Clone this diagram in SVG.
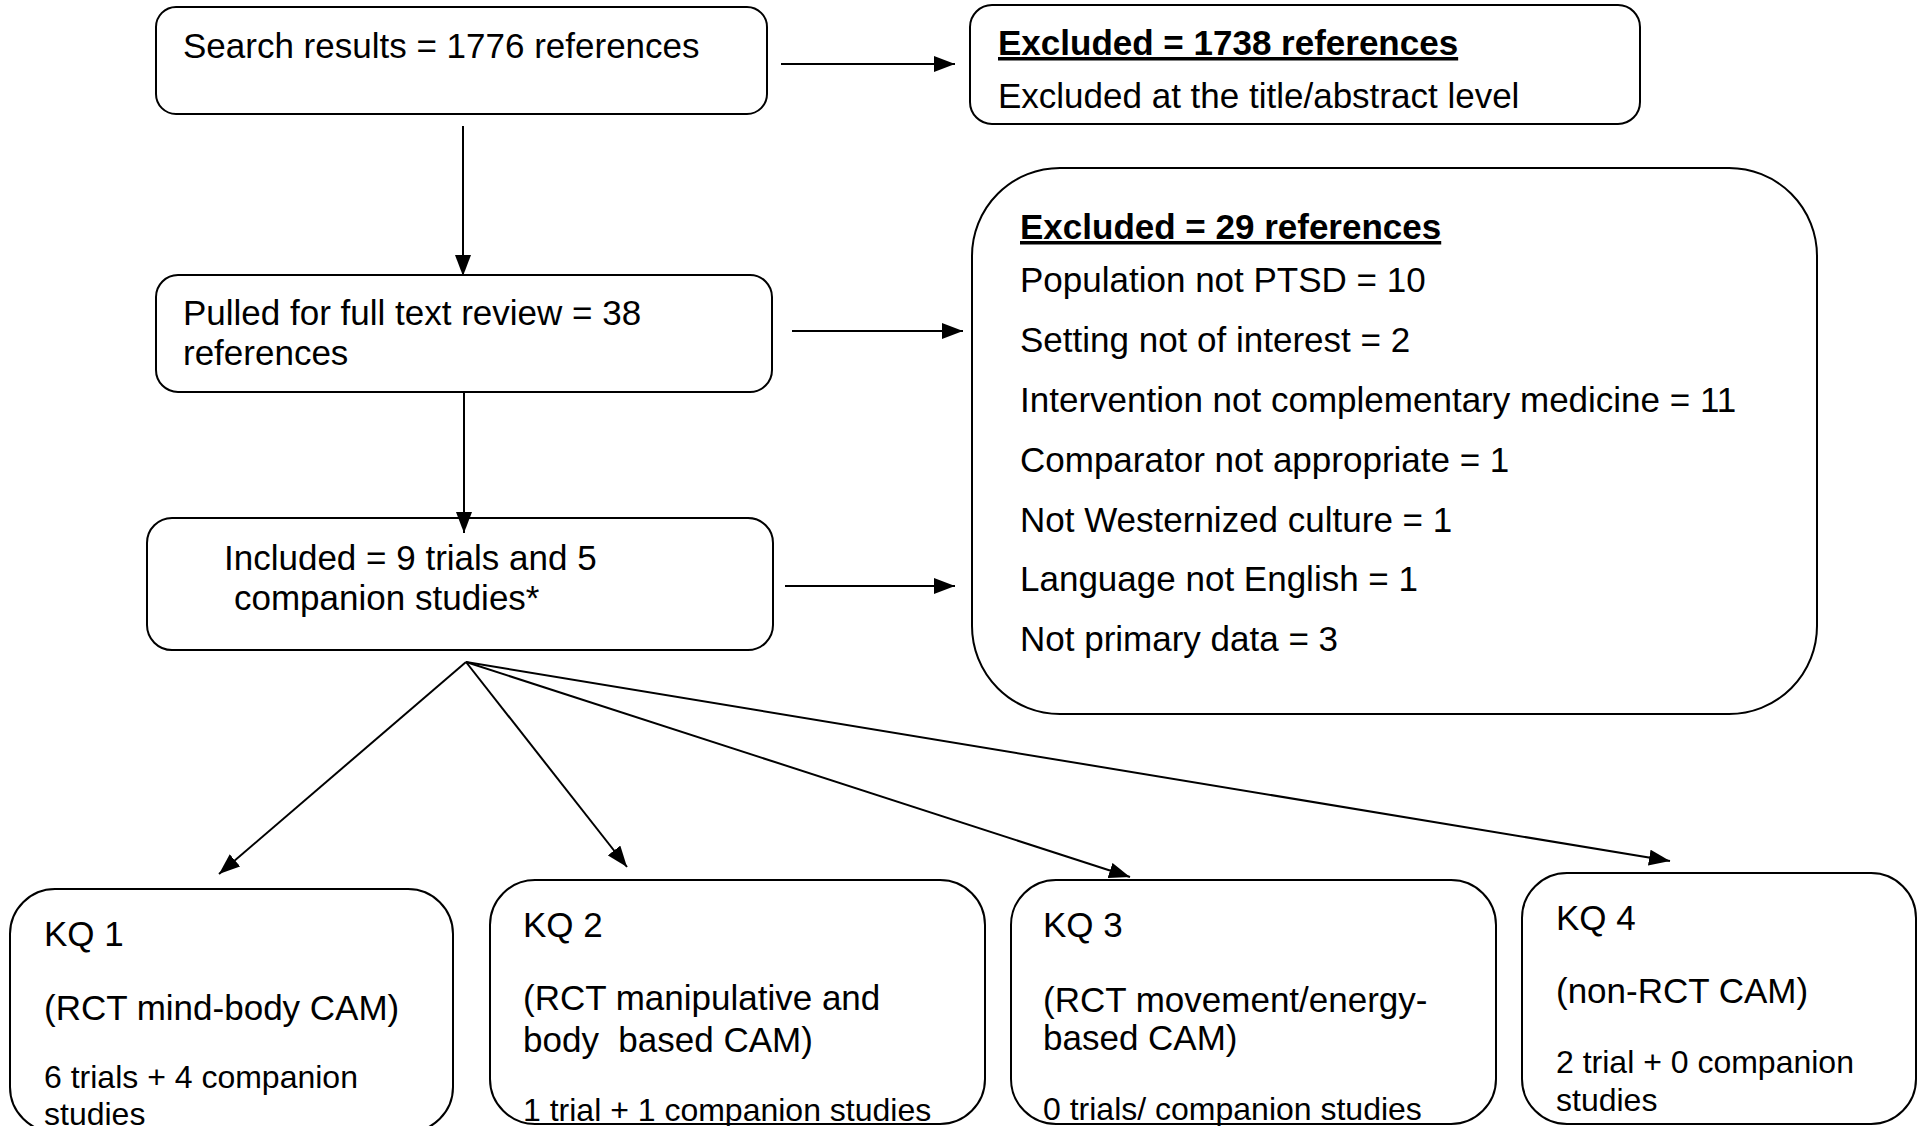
<svg xmlns="http://www.w3.org/2000/svg" width="1921" height="1126" viewBox="0 0 1921 1126">
<defs>
<style>
.box{fill:#fff;stroke:#000;stroke-width:2}
.t{font-family:"Liberation Sans",Arial,sans-serif;font-size:35px;fill:#000}
.s{font-size:32px}
.b{font-weight:bold;text-decoration:underline}
.c{stroke:#000;stroke-width:2;fill:none}
</style>
<marker id="ah" markerUnits="userSpaceOnUse" markerWidth="21" markerHeight="16" refX="21" refY="8" orient="auto">
<path d="M0,0 L21,8 L0,16 z" fill="#000"/>
</marker>
</defs>
<rect width="1921" height="1126" fill="#fff"/>
<g id="search">
<rect class="box" x="156" y="7" width="611" height="107" rx="20"/>
<text class="t" x="183" y="58">Search results = 1776 references</text>
</g>
<g id="excluded1">
<rect class="box" x="970" y="5" width="670" height="119" rx="22"/>
<text class="t b" x="998" y="55">Excluded = 1738 references</text>
<text class="t" x="998" y="108">Excluded at the title/abstract level</text>
</g>
<g id="pulled">
<rect class="box" x="156" y="275" width="616" height="117" rx="22"/>
<text class="t" x="183" y="325">Pulled for full text review = 38</text>
<text class="t" x="183" y="365">references</text>
</g>
<g id="excluded2">
<rect class="box" x="972" y="168" width="845" height="546" rx="88"/>
<text class="t b" x="1020" y="239">Excluded = 29 references</text>
<text class="t" x="1020" y="292">Population not PTSD = 10</text>
<text class="t" x="1020" y="352">Setting not of interest = 2</text>
<text class="t" x="1020" y="412">Intervention not complementary medicine = 11</text>
<text class="t" x="1020" y="472">Comparator not appropriate = 1</text>
<text class="t" x="1020" y="532">Not Westernized culture = 1</text>
<text class="t" x="1020" y="591">Language not English = 1</text>
<text class="t" x="1020" y="651">Not primary data = 3</text>
</g>
<g id="included">
<rect class="box" x="147" y="518" width="626" height="132" rx="25"/>
<text class="t" x="224" y="570">Included = 9 trials and 5</text>
<text class="t" x="234" y="610">companion studies*</text>
</g>
<g id="kq1">
<rect class="box" x="10" y="889" width="443" height="243" rx="45"/>
<text class="t" x="44" y="946">KQ 1</text>
<text class="t" x="44" y="1020">(RCT mind-body CAM)</text>
<text class="t s" x="44" y="1088">6 trials + 4 companion</text>
<text class="t s" x="44" y="1125">studies</text>
</g>
<g id="kq2">
<rect class="box" x="490" y="880" width="495" height="244" rx="45"/>
<text class="t" x="523" y="937">KQ 2</text>
<text class="t" x="523" y="1010">(RCT manipulative and</text>
<text class="t" x="523" y="1052" xml:space="preserve">body  based CAM)</text>
<text class="t s" x="523" y="1121">1 trial + 1 companion studies</text>
</g>
<g id="kq3">
<rect class="box" x="1011" y="880" width="485" height="244" rx="45"/>
<text class="t" x="1043" y="937">KQ 3</text>
<text class="t" x="1043" y="1012">(RCT movement/energy-</text>
<text class="t" x="1043" y="1050">based CAM)</text>
<text class="t s" x="1043" y="1120">0 trials/ companion studies</text>
</g>
<g id="kq4">
<rect class="box" x="1522" y="873" width="394" height="251" rx="45"/>
<text class="t" x="1556" y="930">KQ 4</text>
<text class="t" x="1556" y="1003">(non-RCT CAM)</text>
<text class="t s" x="1556" y="1073">2 trial + 0 companion</text>
<text class="t s" x="1556" y="1111">studies</text>
</g>
<g id="connectors">
<line class="c" x1="781" y1="64" x2="955" y2="64" marker-end="url(#ah)"/>
<line class="c" x1="792" y1="331" x2="963" y2="331" marker-end="url(#ah)"/>
<line class="c" x1="785" y1="586" x2="955" y2="586" marker-end="url(#ah)"/>
<line class="c" x1="463" y1="126" x2="463" y2="276" marker-end="url(#ah)"/>
<line class="c" x1="464" y1="393" x2="464" y2="533" marker-end="url(#ah)"/>
<line class="c" x1="466" y1="662" x2="219" y2="874" marker-end="url(#ah)"/>
<line class="c" x1="466" y1="662" x2="627" y2="867" marker-end="url(#ah)"/>
<line class="c" x1="466" y1="662" x2="1130" y2="877" marker-end="url(#ah)"/>
<line class="c" x1="466" y1="662" x2="1670" y2="861" marker-end="url(#ah)"/>
</g>
</svg>
